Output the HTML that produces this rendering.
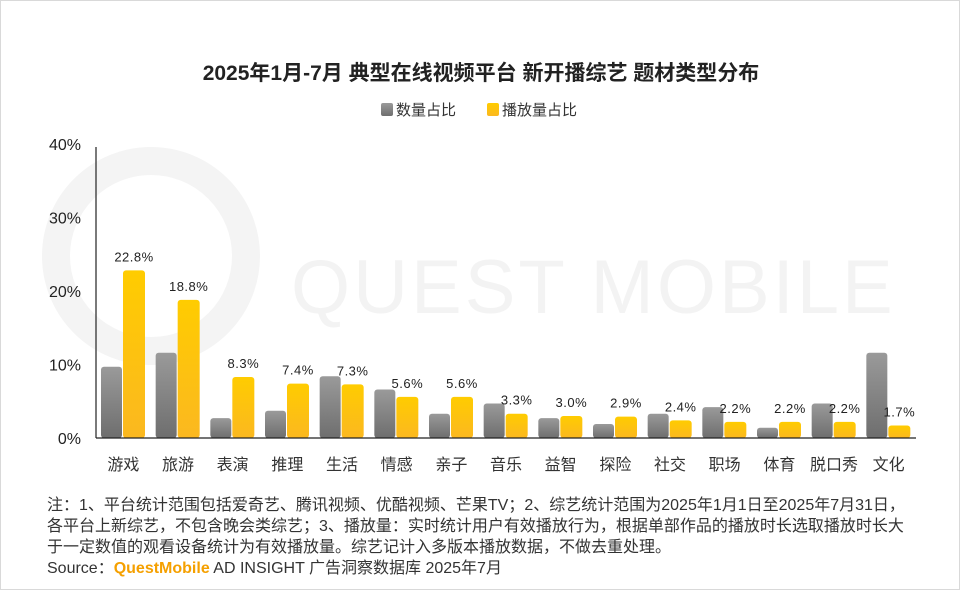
<!DOCTYPE html>
<html><head><meta charset="utf-8"><style>
body{margin:0;background:#fff;}
#wrap{position:relative;width:958px;height:588px;border:1px solid #d9d9d9;overflow:hidden;font-family:"Liberation Sans","Noto Sans CJK SC",sans-serif;}
.note{position:absolute;left:46px;font-size:16px;color:#333;line-height:21px;white-space:nowrap;}
</style></head><body>
<div id="wrap">
<svg id="chart" width="958" height="588" style="position:absolute;left:0;top:0"></svg>
<div class="note" style="top:494px">注：1、平台统计范围包括爱奇艺、腾讯视频、优酷视频、芒果TV；2、综艺统计范围为2025年1月1日至2025年7月31日，<br>各平台上新综艺，不包含晚会类综艺；3、播放量：实时统计用户有效播放行为，根据单部作品的播放时长选取播放时长大<br>于一定数值的观看设备统计为有效播放量。综艺记计入多版本播放数据，不做去重处理。<br>Source：<span style="color:#f5a000;font-weight:bold">QuestMobile</span> AD INSIGHT 广告洞察数据库 2025年7月</div>
</div>
<script>
const categories=["游戏","旅游","表演","推理","生活","情感","亲子","音乐","益智","探险","社交","职场","体育","脱口秀","文化"];
const countShare=[9.7,11.6,2.7,3.7,8.4,6.6,3.3,4.7,2.7,1.9,3.3,4.2,1.4,4.7,11.6];
const playShare=[22.8,18.8,8.3,7.4,7.3,5.6,5.6,3.3,3.0,2.9,2.4,2.2,2.2,2.2,1.7];
const yTicks=[0,10,20,30,40];
const NS="http://www.w3.org/2000/svg";
const svg=document.getElementById('chart');
function el(t,a,txt){const e=document.createElementNS(NS,t);for(const k in a)e.setAttribute(k,a[k]);if(txt!==undefined)e.textContent=txt;svg.appendChild(e);return e;}
const x0=95,x1=915,yb=437,ppu=7.35,band=(x1-x0)/categories.length;
const y=v=>yb-v*ppu;
const defs=document.createElementNS(NS,'defs');
defs.innerHTML='<linearGradient id="gg" x1="0" y1="0" x2="0" y2="1"><stop offset="0" stop-color="#9a9a9a"/><stop offset="1" stop-color="#6e6e6e"/></linearGradient><linearGradient id="yg" x1="0" y1="0" x2="0" y2="1"><stop offset="0" stop-color="#ffcc00"/><stop offset="1" stop-color="#fbb820"/></linearGradient>';
svg.appendChild(defs);
let w=el('circle',{cx:150,cy:255,r:95,fill:'none',stroke:'#f4f4f4','stroke-width':28});

w=el('text',{x:290,y:312,'font-size':76,fill:'#f3f3f3','font-family':'Liberation Sans,sans-serif','letter-spacing':3},'QUEST MOBILE');

let t=el('text',{x:480,y:79,'text-anchor':'middle','font-size':21,'font-weight':'bold',fill:'#222'},'2025年1月-7月 典型在线视频平台 新开播综艺 题材类型分布');

let g=el('rect',{x:380,y:102,width:12,height:13,rx:2,fill:'url(#gg)'});

g=el('text',{x:395,y:114,'font-size':15,fill:'#333'},'数量占比');

g=el('rect',{x:486,y:102,width:12,height:13,rx:2,fill:'url(#yg)'});

g=el('text',{x:501,y:114,'font-size':15,fill:'#333'},'播放量占比');

yTicks.forEach(v=>{const e=el('text',{x:80,y:y(v)+6,'text-anchor':'end','font-size':16,fill:'#222'},v+'%');
});
categories.forEach((c,i)=>{
 const bx=x0+i*band;
 const gv=countShare[i],pv=playShare[i];
 let r=el('rect',{x:bx+5,y:y(gv),width:21,height:gv*ppu,rx:3,fill:'url(#gg)'});
 
 r=el('rect',{x:bx+27,y:y(pv),width:22,height:pv*ppu,rx:3,fill:'url(#yg)'});
 
 let l=el('text',{x:bx+38,y:y(pv)-9,'text-anchor':'middle','font-size':13,fill:'#222','letter-spacing':0.5},pv.toFixed(1)+'%');
 
 l=el('text',{x:bx+band/2,y:469,'text-anchor':'middle','font-size':16,fill:'#333'},c);
 
});
let a=el('line',{x1:x0,y1:146,x2:x0,y2:yb,stroke:'#222','stroke-width':1.2});

a=el('line',{x1:x0,y1:yb,x2:x1,y2:yb,stroke:'#222','stroke-width':1.2});

</script>
</body></html>
